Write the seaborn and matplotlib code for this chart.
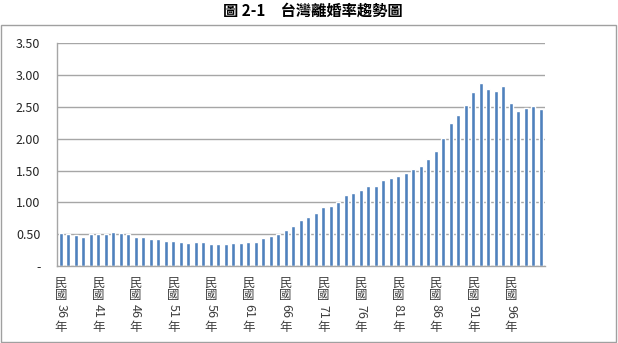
import matplotlib
matplotlib.use("Agg")
import matplotlib.pyplot as plt
from matplotlib.patches import Rectangle
import seaborn as sns
import pandas as pd
import numpy as np

# 台灣粗離婚率 (‰), 民國36年 ~ 民國100年
years = list(range(36, 101))
rates = [0.52, 0.50, 0.48, 0.45, 0.50, 0.51, 0.50, 0.54, 0.52, 0.50,
         0.46, 0.45, 0.43, 0.42, 0.39, 0.39, 0.37, 0.36, 0.37, 0.37,
         0.35, 0.34, 0.34, 0.36, 0.36, 0.37, 0.38, 0.44, 0.47, 0.51,
         0.56, 0.63, 0.72, 0.77, 0.84, 0.93, 0.95, 1.01, 1.11, 1.15,
         1.19, 1.26, 1.25, 1.35, 1.39, 1.42, 1.46, 1.52, 1.57, 1.68,
         1.80, 2.01, 2.24, 2.37, 2.53, 2.74, 2.87, 2.78, 2.75, 2.83,
         2.56, 2.44, 2.49, 2.51, 2.47]
label_years = list(range(36, 97, 5))
ytick_values = [0, 0.5, 1.0, 1.5, 2.0, 2.5, 3.0, 3.5]
ytick_labels = ["-", "0.50", "1.00", "1.50", "2.00", "2.50", "3.00", "3.50"]

sns.set_style("white")
plt.rcParams['font.family'] = ['Noto Sans CJK TC', 'DejaVu Sans']

W, H = 618, 343
fig = plt.figure(figsize=(W / 100, H / 100), dpi=100)
ax = fig.add_axes([57 / W, 1 - 266 / H, (544.5 - 57) / W, (266 - 43.3) / H])

df = pd.DataFrame({"year": years, "rate": rates})
sns.barplot(data=df, x="year", y="rate", color="#4F81BD", saturation=1,
            width=0.5, ax=ax)

ax.set_xlim(-0.5, len(years) - 0.5)
ax.set_ylim(0, 3.5)
ax.set_xlabel("")
ax.set_ylabel("")

# y axis: gridlines + labels
ax.set_yticks(ytick_values)
ax.set_yticklabels(ytick_labels, fontsize=9, color="#262626")
ax.yaxis.grid(True, color="#A6A6A6", lw=1)
ax.set_axisbelow(True)
ax.tick_params(axis="y", length=4, width=1, color="#A6A6A6", direction="out", pad=8)

# x axis: tick marks between categories, labels drawn as vertical text
ax.set_xticks(np.arange(-0.5, len(years), 1.0))
ax.set_xticklabels([])
ax.tick_params(axis="x", length=4, width=1, color="#A6A6A6", direction="out")

for s in ["top", "right"]:
    ax.spines[s].set_visible(False)
for s in ["left", "bottom"]:
    ax.spines[s].set_color("#A6A6A6")
    ax.spines[s].set_linewidth(1)

ah = 266 - 43.3
trans = ax.get_xaxis_transform()
for y in label_years:
    i = years.index(y)
    kw = dict(transform=trans, ha="center", va="center", fontsize=9, color="#404040")
    ax.text(i, -(283 - 266) / ah, "民", **kw)
    ax.text(i, -(296 - 266) / ah, "國", **kw)
    ax.text(i, -(311.5 - 266) / ah, str(y), rotation=270, **kw)
    ax.text(i, -(327 - 266) / ah, "年", **kw)

# chart frame and title
fig.patches.append(Rectangle((1 / W, 1 - 342 / H), 615 / W, (342 - 25) / H,
                             transform=fig.transFigure, fill=False,
                             edgecolor="#A0A0A0", lw=1))
fig.text(313 / W, 1 - 11 / H, "圖 2-1　台灣離婚率趨勢圖", ha="center", va="center",
         fontsize=11, fontweight="bold", color="#000000")

fig.savefig("out.png", dpi=100)
